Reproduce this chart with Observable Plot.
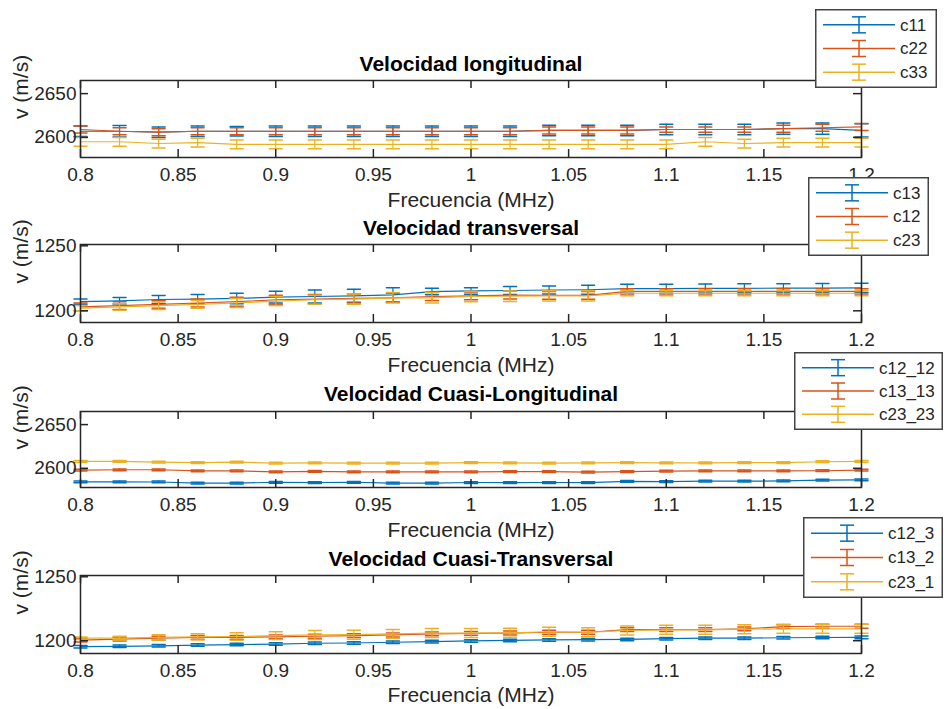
<!DOCTYPE html>
<html><head><meta charset="utf-8">
<script src="https://cdn.jsdelivr.net/npm/d3@7"></script>
<script src="https://cdn.jsdelivr.net/npm/@observablehq/plot@0.6"></script>
<style>
body{margin:0;background:#fff;}
#fig{position:relative;width:944px;height:709px;background:#fff;overflow:hidden;font-family:'Liberation Sans',Arial,Helvetica,sans-serif;}
.band{position:absolute;left:0;}
.legend{position:absolute;}
</style></head><body><div id="fig"></div>
<script>
// ---------- data ----------
const freq = [0.8,0.82,0.84,0.86,0.88,0.9,0.92,0.94,0.96,0.98,1.0,1.02,1.04,1.06,1.08,1.1,1.12,1.14,1.16,1.18,1.2];
const xTicks = [0.8,0.85,0.9,0.95,1.0,1.05,1.1,1.15,1.2];
const xTickLabels = ["0.8","0.85","0.9","0.95","1","1.05","1.1","1.15","1.2"];
const xLabel = "Frecuencia (MHz)";
const yLabel = "v (m/s)";

// Panel 1: Velocidad longitudinal
const p1Title = "Velocidad longitudinal";
const p1Names = ["c11","c22","c33"];
const p1YTicks = [2600,2650];
const c11 = [2607,2607,2606,2607,2607,2607,2607,2607,2607,2607,2607,2607,2608,2608,2608,2609,2609,2609,2610,2610,2608];
const c11Err = [6,6.5,6,6,5.5,6,6,6,6,6,6,6,6,6,6,6,6,6,6.5,6.5,7.5];
const c22 = [2609,2607,2606,2607,2607,2607,2607,2607,2607,2607,2607,2607,2608,2608,2608,2609,2609,2609,2610,2611,2612];
const c22Err = [4,4,4,4,4,4,4,4,4,4,4,4,4,4,4,3,3,3,4,4,4];
const c33 = [2595,2595,2593,2594,2592,2592,2592,2592,2592,2592,2592,2592,2592,2592,2592,2592,2595,2593,2594,2594,2594];
const c33Err = [5,5,5,5,5,5,5,5,5,5,5,5,5,5,5,5,5,5,5,5,5];

// Panel 2: Velocidad transversal
const p2Title = "Velocidad transversal";
const p2Names = ["c13","c12","c23"];
const p2YTicks = [1200,1250];
const c13 = [1207,1207.7,1208.7,1209,1209.5,1210.5,1211,1211.5,1212.3,1214.8,1215.3,1215.6,1216,1216.2,1217,1217,1217.2,1217.3,1217.4,1217.5,1217.6];
const c13Err = [2,2.5,3,3.5,4,4.5,5,5,5.5,2.5,2.5,3,3,3.5,3.5,3.5,3.5,3.5,3.5,3.5,3.5];
const c12 = [1203,1204,1205,1206,1207,1208.5,1209,1209.5,1210,1211,1211.5,1212,1211.8,1211.8,1215,1215,1215,1215,1215,1215,1215];
const c12Err = [3,3,3,3,3.5,3.5,3.5,3.5,3.5,3,3,3,3,3,2,2,2,2,2,2,2];
const c23 = [1202,1203,1204,1205,1206,1207.5,1208.5,1209,1210,1210,1211,1211.2,1211.5,1211.5,1213.5,1213.5,1213.5,1213.5,1213.5,1213.5,1213.5];
const c23Err = [2,2.5,3,3,3.5,3.5,3.5,4,4,4,4,4,4,4,2,2,2,2,2,2,2];

// Panel 3: Velocidad Cuasi-Longitudinal
const p3Title = "Velocidad Cuasi-Longitudinal";
const p3Names = ["c12_12","c13_13","c23_23"];
const p3YTicks = [2600,2650];
const c12_12 = [2584.5,2584.5,2584.3,2583,2583,2584,2583.7,2584,2583,2583,2583.7,2583.5,2583.7,2583.5,2585,2584.8,2585.2,2585.2,2585.5,2586.4,2586.7];
const c12_12Err = [1,1,1,1,1,1,1,1,1,1,1,1,1,1,1,1,1,1,1,1,1];
const c13_13 = [2598,2598.3,2598.3,2597,2597,2596,2596.5,2596,2596,2595.8,2596,2596.2,2596.2,2595.6,2596.2,2596.8,2597,2597,2597,2597.2,2598];
const c13_13Err = [1,1,1,1,1,1,1,1,1,1,1,1,1,1,1,1,1,1,1,1,1];
const c23_23 = [2608,2608,2607,2606.5,2607,2606,2606.2,2606,2606,2606,2606.5,2606.2,2605.8,2606.2,2606.5,2606.3,2606.3,2606.5,2606.5,2607.5,2608];
const c23_23Err = [1,1,1,1,1,1,1,1,1,1,1,1,1,1,1,1,1,1,1,1,1];

// Panel 4: Velocidad Cuasi-Transversal
const p4Title = "Velocidad Cuasi-Transversal";
const p4Names = ["c12_3","c13_2","c23_1"];
const p4YTicks = [1200,1250];
const c12_3 = [1195.3,1195.6,1196,1196.6,1197,1197.4,1198,1198.2,1198.8,1199.3,1199.8,1200.2,1200.6,1200.8,1201,1201.6,1202,1202,1202.3,1202.5,1202.6];
const c12_3Err = [1,1,1,1,1,1,1,1,1,1,1,1,1,1,1,1,1,1,1,1,1];
const c13_2 = [1200.5,1201.3,1202,1202.6,1202.6,1203,1203.5,1204,1204.5,1205.3,1205.8,1206,1206.6,1206.6,1208.7,1208.7,1208.7,1209.3,1211,1211.3,1211.3];
const c13_2Err = [1.5,1.5,1.5,1.5,1.5,1.5,1.5,1.5,1.5,1.5,1.5,1.5,1.5,1.5,1.5,1.5,1.5,1.5,1.5,1.5,1.5];
const c23_1 = [1202,1202,1202.6,1203,1203.3,1204,1204.5,1204.7,1205.3,1206,1206,1206.2,1207,1206.6,1208,1208.5,1208.5,1209,1209.3,1209.3,1209.3];
const c23_1Err = [1,1.5,2,2.5,3,3,3.5,3.5,3.5,3.5,3.5,3.5,3.5,3.5,3.5,3.5,3.5,3.5,3.5,3.5,3.5];

// ---------- style ----------
const COLORS = ["#0072BD","#D95319","#EDB120"];
const INK = "#262626";
const FONT = "'Liberation Sans', Arial, Helvetica, sans-serif";
const capShape = {draw(ctx, l) { ctx.moveTo(0, 0); ctx.lineTo(0, -l); }};

const panels = [
  {title: p1Title, names: p1Names, series: [c11,c22,c33], errors: [c11Err,c22Err,c33Err], yTicks: p1YTicks, domain: [2577,2665],
   top: 0, height: 212, mt: 80, mb: 55, titleDy: -16, xlabDy: 43,
   legend: {left: 815, top: 9, w: 122, h: 79}},
  {title: p2Title, names: p2Names, series: [c13,c12,c23], errors: [c13Err,c12Err,c23Err], yTicks: p2YTicks, domain: [1191,1251],
   top: 212, height: 168, mt: 32, mb: 58, titleDy: -16, xlabDy: 43,
   legend: {left: 808, top: 177, w: 121, h: 79}},
  {title: p3Title, names: p3Names, series: [c12_12,c13_13,c23_23], errors: [c12_12Err,c13_13Err,c23_23Err], yTicks: p3YTicks, domain: [2578,2665],
   top: 380, height: 168, mt: 31, mb: 61, titleDy: -17, xlabDy: 43,
   legend: {left: 794, top: 352, w: 149, h: 78}},
  {title: p4Title, names: p4Names, series: [c12_3,c13_2,c23_1], errors: [c12_3Err,c13_2Err,c23_1Err], yTicks: p4YTicks, domain: [1190,1251],
   top: 548, height: 161, mt: 27, mb: 56, titleDy: -16, xlabDy: 42,
   legend: {left: 803, top: 517, w: 140, h: 81}}
];

const fig = document.getElementById("fig");
const ML = 80, MR = 83, W = 944;

panels.forEach(p => {
  const fh = p.height - p.mt - p.mb;
  const fw = W - ML - MR;
  const marks = [];
  p.series.forEach((vals, k) => {
    const rows = freq.map((f, i) => ({f, v: vals[i], e: p.errors[k][i]}));
    const c = COLORS[k];
    marks.push(
      Plot.ruleX(rows, {x: "f", y1: d => d.v - d.e, y2: d => d.v + d.e, stroke: c, strokeWidth: 1.2}),
      Plot.vector(rows, {x: "f", y: d => d.v - d.e, length: 13, rotate: 90, anchor: "middle", shape: capShape, stroke: c, strokeWidth: 1.5}),
      Plot.vector(rows, {x: "f", y: d => d.v + d.e, length: 13, rotate: 90, anchor: "middle", shape: capShape, stroke: c, strokeWidth: 1.5}),
      Plot.line(rows, {x: "f", y: "v", stroke: c, strokeWidth: 1.2})
    );
  });
  marks.push(
    Plot.tickX(xTicks, {x: d => d, insetTop: fh - 8, stroke: INK, strokeWidth: 1.5}),
    Plot.tickX(xTicks, {x: d => d, insetBottom: fh - 8, stroke: INK, strokeWidth: 1.5}),
    Plot.tickY(p.yTicks, {y: d => d, insetRight: fw - 8, stroke: INK, strokeWidth: 1.5}),
    Plot.tickY(p.yTicks, {y: d => d, insetLeft: fw - 8, stroke: INK, strokeWidth: 1.5}),
    Plot.frame({stroke: INK, strokeWidth: 1.5}),
    Plot.axisX(xTicks, {tickSize: 0, tickPadding: 10, tickFormat: d => xTickLabels[xTicks.indexOf(d)], fontSize: 19, label: null, fill: INK}),
    Plot.axisY(p.yTicks, {tickSize: 0, tickPadding: 4, tickFormat: d => String(d), fontSize: 19, label: null, fill: INK}),
    Plot.text([p.title], {text: d => d, frameAnchor: "top", lineAnchor: "middle", dy: p.titleDy, fontSize: 21, fontWeight: "bold", fill: "#000"}),
    Plot.text([xLabel], {text: d => d, frameAnchor: "bottom", lineAnchor: "middle", dy: p.xlabDy, fontSize: 21, fill: INK}),
    Plot.text([yLabel], {text: d => d, frameAnchor: "left", lineAnchor: "middle", dx: -59, rotate: -90, fontSize: 21, fill: INK})
  );
  const chart = Plot.plot({
    width: W, height: p.height,
    marginLeft: ML, marginRight: MR, marginTop: p.mt, marginBottom: p.mb,
    style: {fontFamily: FONT, color: INK, background: "transparent", overflow: "visible"},
    x: {domain: [0.8, 1.2]},
    y: {domain: p.domain},
    marks
  });
  chart.classList.add("band");
  chart.style.top = p.top + "px";
  fig.appendChild(chart);
});

// legends (drawn on top of axes like MATLAB)
panels.forEach(p => {
  const L = p.legend;
  const svg = d3.select(fig).append("svg").attr("class", "legend")
    .style("left", L.left + "px").style("top", L.top + "px")
    .attr("width", L.w).attr("height", L.h);
  svg.append("rect").attr("x", 0.75).attr("y", 0.75).attr("width", L.w - 1.5).attr("height", L.h - 1.5)
    .attr("fill", "#fff").attr("stroke", "#444").attr("stroke-width", 1.5);
  const rowH = (L.h - 8) / 3;
  p.names.forEach((n, k) => {
    const cy = 4 + rowH * (k + 0.5);
    const g = svg.append("g").attr("stroke", COLORS[k]).attr("stroke-width", 1.5);
    g.append("line").attr("x1", 8).attr("x2", 80).attr("y1", cy).attr("y2", cy);
    g.append("line").attr("x1", 44).attr("x2", 44).attr("y1", cy - 8).attr("y2", cy + 8);
    g.append("line").attr("x1", 37).attr("x2", 51).attr("y1", cy - 8).attr("y2", cy - 8);
    g.append("line").attr("x1", 37).attr("x2", 51).attr("y1", cy + 8).attr("y2", cy + 8);
    svg.append("text").attr("x", 85).attr("y", cy).attr("dy", "0.35em")
      .attr("font-family", FONT).attr("font-size", 17).attr("fill", INK).text(n);
  });
});
</script></body></html>
